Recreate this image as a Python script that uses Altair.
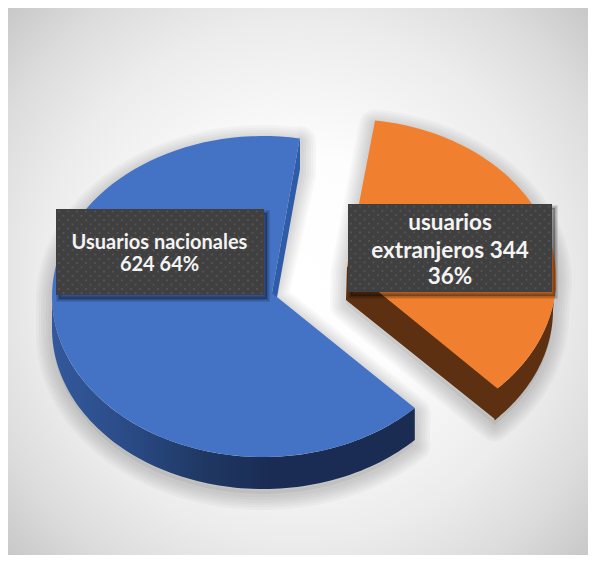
import numpy as np
import pandas as pd
import altair as alt

# ---- data ----
categories = ["Usuarios nacionales", "usuarios extranjeros"]
values = [624, 344]
percent = ["64%", "36%"]

# ---- layout (image pixel coordinates) ----
W, H = 588, 555
XS = alt.Scale(domain=[8, W], range=[0, W - 8])
YS = alt.Scale(domain=[8, H], range=[0, H - 8])
DEPTH = 32
BLUE = dict(cx=263, cy=296.5, a=211, b=160.5)
ORANGE = dict(cx=347, cy=278, a=209, b=159)
BLUE_APEX = (272, 293)
ORANGE_APEX = (347, 266)

total = sum(values)
# the tilted drawing stretches angles slightly
blue_end = 134.0
blue_start = blue_end + values[0] / total * 360 * 1.017
orange_start = 7.7
orange_end = orange_start + values[1] / total * 360 * 0.987


def arc(g, t0, t1, dx=0, dy=0, n=90):
    t = np.radians(np.linspace(t0, t1, n))
    return list(zip(g["cx"] + g["a"] * np.sin(t) + dx, g["cy"] - g["b"] * np.cos(t) + dy))


def poly(points, **mark):
    df = pd.DataFrame(points, columns=["x", "y"])
    df["i"] = range(len(df))
    mark.setdefault("interpolate", "linear-closed")
    mark.setdefault("strokeWidth", 0)
    return alt.Chart(df).mark_line(**mark).encode(
        x=alt.X("x:Q", scale=XS, axis=None),
        y=alt.Y("y:Q", scale=YS, axis=None),
        order="i:Q",
    )


def lin(stops, x1=0, x2=1):
    return alt.LinearGradient(
        gradient="linear", x1=x1, x2=x2, y1=0, y2=0,
        stops=[alt.GradientStop(offset=o, color=c) for o, c in stops],
    )


layers = []

# background
bg = alt.RadialGradient(
    gradient="radial", x1=0.5, y1=0.5, x2=0.5, y2=0.5, r1=0, r2=0.72,
    stops=[alt.GradientStop(offset=o, color=c) for o, c in
           [(0, "#ffffff"), (0.3, "#fdfdfd"), (0.62, "#ececec"), (0.8, "#dcdcdc"), (1, "#c2c2c2")]],
)
layers.append(alt.Chart(pd.DataFrame({"a": [0]})).mark_rect(fill=bg).encode(
    x=alt.value(0), x2=alt.value(W - 8), y=alt.value(0), y2=alt.value(H - 8)))

# outlines
blue_arc = arc(BLUE, blue_end, blue_start)
orange_arc = arc(ORANGE, orange_start, orange_end)
blue_sil = (
    [(300, 137), (300, 169), BLUE_APEX, blue_arc[0], (blue_arc[0][0] - 1, blue_arc[0][1] + DEPTH)]
    + arc(BLUE, blue_end, 270, dy=DEPTH)
    + arc(BLUE, 270, blue_start)
)
orange_sil = (
    [ORANGE_APEX, orange_arc[0]]
    + arc(ORANGE, orange_start, 90)
    + arc(ORANGE, 90, orange_end, dx=-3, dy=DEPTH)
    + [(346, 300)]
)

# soft shadows, falling downwards
for sil, off in ((blue_sil, 5), (orange_sil, 5)):
    pts = [(x, y + off) for x, y in sil]
    for w in (32, 27, 22, 17, 12, 7):
        layers.append(poly(pts, fill="#000000", fillOpacity=0.008, stroke="#000000",
                           strokeOpacity=0.026, strokeWidth=w, strokeJoin="round"))

# blue slice
layers.append(poly([(300, 137), (300, 169), (272, 325), BLUE_APEX], fill="#2f5ca6"))
layers.append(poly(
    arc(BLUE, blue_end, 270) + arc(BLUE, 270, blue_end, dx=0, dy=DEPTH),
    fill=lin([(0, "#33599c"), (0.22, "#2a4a85"), (0.42, "#1f3863"), (0.6, "#1a2c54"), (1, "#1a2c52")]),
))
layers.append(poly([BLUE_APEX] + blue_arc, fill="#4472c4"))

# orange slice
layers.append(poly([ORANGE_APEX, (346, 300), (496, 420), (499, 388)], fill="#5e3012"))
layers.append(poly(
    arc(ORANGE, 90, orange_end) + arc(ORANGE, orange_end, 90, dx=-3, dy=DEPTH),
    fill="#5e3012",
))
layers.append(poly([ORANGE_APEX] + orange_arc, fill="#f08030"))

# label boxes
boxes = pd.DataFrame({
    "x": [56, 348], "x2": [264, 552], "y": [209, 204], "y2": [295, 292],
})
for w in (6, 4, 2):
    sh = boxes.assign(x=boxes.x + 3, x2=boxes.x2 + 3, y=boxes.y + 4, y2=boxes.y2 + 4)
    layers.append(alt.Chart(sh).mark_rect(fill="#000000", fillOpacity=0.1, stroke="#000000",
                                          strokeOpacity=0.1, strokeWidth=w).encode(
        x=alt.X("x:Q", scale=XS, axis=None), x2="x2:Q",
        y=alt.Y("y:Q", scale=YS, axis=None), y2="y2:Q"))
layers.append(alt.Chart(boxes).mark_rect(fill="#404040").encode(
    x=alt.X("x:Q", scale=XS, axis=None), x2="x2:Q",
    y=alt.Y("y:Q", scale=YS, axis=None), y2="y2:Q"))

# dot texture of the boxes
dots = []
for _, b in boxes.iterrows():
    for r, y in enumerate(np.arange(b.y + 2.5, b.y2 - 1, 4.3)):
        for x in np.arange(b.x + 3 + (r % 2) * 4.5, b.x2 - 1, 9):
            dots.append((x, y))
layers.append(alt.Chart(pd.DataFrame(dots, columns=["x", "y"])).mark_square(
    size=3, color="#575757", opacity=1, strokeWidth=0).encode(
    x=alt.X("x:Q", scale=XS, axis=None), y=alt.Y("y:Q", scale=YS, axis=None)))

# label text
first, second = categories[1].split(" ")
labels = pd.DataFrame({
    "x": [159.5, 159.5, 450, 450, 450],
    "y": [243, 265, 223, 251, 277],
    "t": [categories[0], f"{values[0]} {percent[0]}", first,
          f"{second} {values[1]}", percent[1]],
    "s": [20, 20, 22.5, 22.5, 22.5],
})
layers.append(alt.Chart(labels).mark_text(
    font="Lato", fontWeight="bold", color="#f4f4f4", align="center", baseline="middle").encode(
    x=alt.X("x:Q", scale=XS, axis=None),
    y=alt.Y("y:Q", scale=YS, axis=None),
    text="t:N",
    size=alt.Size("s:Q", scale=None, legend=None)))

chart = alt.layer(*layers).properties(
    width=W - 8, height=H - 8, padding=0,
    autosize=alt.AutoSizeParams(type="none"),
).configure_view(stroke=None)

chart.save("out.html", embed_options={"renderer": "svg", "actions": False})
